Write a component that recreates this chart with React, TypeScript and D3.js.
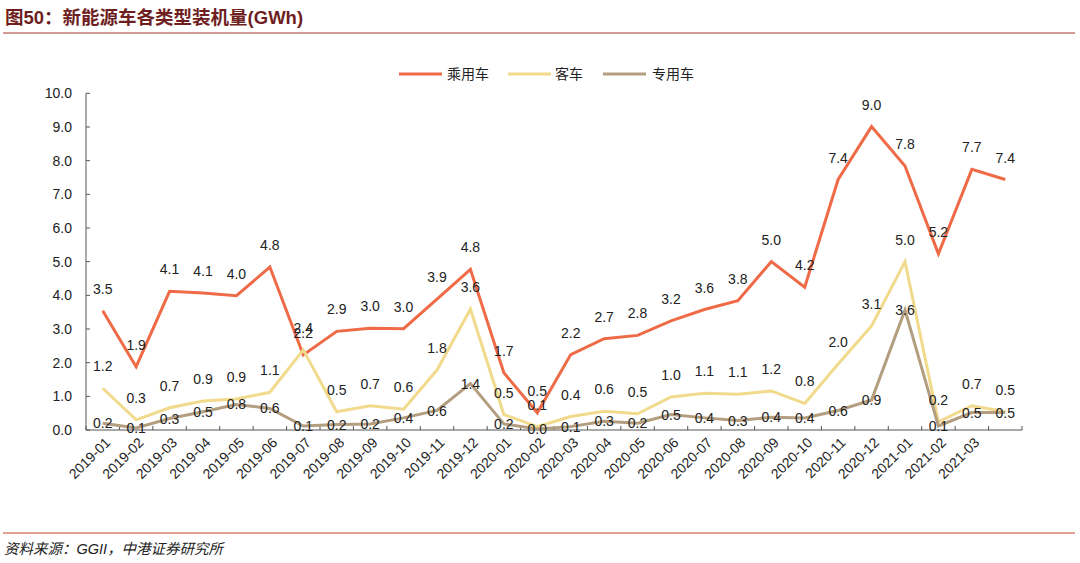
import React from "react";
import * as d3 from "d3";

const categories = [
  "2019-01","2019-02","2019-03","2019-04","2019-05","2019-06","2019-07","2019-08","2019-09","2019-10","2019-11","2019-12",
  "2020-01","2020-02","2020-03","2020-04","2020-05","2020-06","2020-07","2020-08","2020-09","2020-10","2020-11","2020-12",
  "2021-01","2021-02","2021-03",""
];
const passenger = [3.54,1.88,4.12,4.07,3.99,4.84,2.23,2.93,3.02,3.01,3.89,4.77,1.70,0.51,2.24,2.71,2.81,3.24,3.58,3.84,5.0,4.24,7.44,9.01,7.84,5.23,7.74,7.44];
const bus = [1.24,0.30,0.66,0.86,0.92,1.12,2.38,0.54,0.72,0.62,1.78,3.59,0.46,0.10,0.40,0.56,0.48,0.98,1.09,1.06,1.16,0.79,1.96,3.09,5.0,0.24,0.72,0.54];
const special = [0.2,0.06,0.34,0.54,0.76,0.64,0.12,0.16,0.18,0.36,0.58,1.38,0.18,0.03,0.10,0.26,0.20,0.46,0.36,0.28,0.38,0.36,0.58,0.89,3.56,0.12,0.52,0.52];
const yTicks = [0,1,2,3,4,5,6,7,8,9,10];

const series = [
  { name: "乘用车", values: passenger, color: "#EF6B47", label: "above" },
  { name: "客车", values: bus, color: "#F1DA8C", label: "above" },
  { name: "专用车", values: special, color: "#B49E80", label: "center" },
];

const W = 1080, H = 563;
const left = 86, right = 1022, top = 93.3, bottom = 430;
const NUM = "'Liberation Sans', Arial, sans-serif";
const CJK = "'Noto Sans CJK SC', sans-serif";

export default function App() {
  const x = d3.scaleBand<number>().domain(d3.range(categories.length)).range([left, right]);
  const y = d3.scaleLinear().domain([0, 10]).range([bottom, top]);
  const cx = (i: number) => (x(i) as number) + x.bandwidth() / 2;
  const line = d3.line<number>().x((_, i) => cx(i)).y((v) => y(v));
  const legendItems = [
    { x1: 399, tx: 447 },
    { x1: 508, tx: 555 },
    { x1: 603, tx: 652 },
  ];
  return (
    <svg width={W} height={H} style={{ position: "absolute", left: 0, top: 0, background: "#fff" }}>
      <rect x={0} y={0} width={W} height={H} fill="#fff" />
      <text x={5} y={24} fill="#6E1E1E" fontFamily={CJK} fontWeight="bold" fontSize={18.5}>
        图<tspan fontFamily={NUM}>50</tspan>：新能源车各类型装机量<tspan fontFamily={NUM}>(GWh)</tspan>
      </text>
      <line x1={3} x2={1075} y1={33} y2={33} stroke="#A8382A" strokeWidth={1.2} />

      {/* legend */}
      {series.map((s, k) => (
        <g key={s.name}>
          <line x1={legendItems[k].x1} x2={legendItems[k].x1 + 43} y1={74} y2={74} stroke={s.color} strokeWidth={3} />
          <text x={legendItems[k].tx} y={79} fontFamily={CJK} fontSize={14} fill="#222">{s.name}</text>
        </g>
      ))}

      {/* axes */}
      <line x1={left} x2={left} y1={top} y2={bottom} stroke="#555" strokeWidth={1} />
      {yTicks.map((t) => (
        <g key={t}>
          <line x1={left} x2={left + 4} y1={y(t)} y2={y(t)} stroke="#555" />
          <text x={72} y={y(t) + 5} textAnchor="end" fontFamily={NUM} fontSize={14} fill="#222">{t.toFixed(1)}</text>
        </g>
      ))}
      <line x1={left} x2={right} y1={bottom} y2={bottom} stroke="#555" strokeWidth={1} />
      {d3.range(categories.length + 1).map((i) => {
        const xx = i < categories.length ? (x(i) as number) : right;
        return <line key={i} x1={xx} x2={xx} y1={bottom} y2={bottom - 4} stroke="#555" />;
      })}
      {categories.map((c, i) => (
        <text key={i} transform={`translate(${cx(i) + 5},${bottom + 10}) rotate(-45)`} textAnchor="end" dy="0.35em" fontFamily={NUM} fontSize={14} fill="#222">{c}</text>
      ))}

      {/* lines */}
      {series.map((s) => (
        <path key={s.name} d={line(s.values) || ""} fill="none" stroke={s.color} strokeWidth={3} strokeLinejoin="miter" />
      ))}

      {/* labels */}
      {series.map((s) =>
        s.values.map((v, i) => (
          <text key={s.name + i} x={cx(i)} y={s.label === "above" ? y(v) - 22 : y(v)} dy="0.36em" textAnchor="middle" fontFamily={NUM} fontSize={14} fill="#222">
            {v.toFixed(1)}
          </text>
        ))
      )}

      <line x1={3} x2={1075} y1={533} y2={533} stroke="#C8452E" strokeWidth={1.2} />
      <text x={4} y={554} fontFamily={CJK} fontStyle="italic" fontSize={14.5} fill="#222">
        资料来源：<tspan fontFamily={NUM}>GGII</tspan>，中港证券研究所
      </text>
    </svg>
  );
}
